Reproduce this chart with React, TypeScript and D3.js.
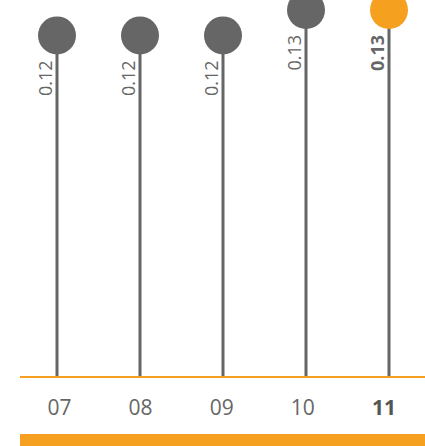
import React from "react";
import * as d3 from "d3";

const categories = ["07", "08", "09", "10", "11"];
const values = [0.121, 0.121, 0.121, 0.13, 0.13];
const highlight = [false, false, false, false, true];

const W = 425;
const H = 446;

export default function App() {
  const x = d3.scalePoint<string>().domain(categories).range([57, 389]);
  const xLabel = d3.scalePoint<string>().domain(categories).range([59.5, 384]);
  const y = d3.scaleLinear().domain([0, 0.13]).range([377, 10]);
  const r = 19;
  const gray = "#666666";
  const orange = "#F5A01F";
  const font = "'Open Sans', sans-serif";
  return (
    <svg
      width={W}
      height={H}
      style={{ position: "absolute", left: 0, top: 0, display: "block" }}
    >
      {categories.map((c, i) => {
        const cx = x(c)!;
        const cy = y(values[i]);
        return (
          <g key={c}>
            <line x1={cx} x2={cx} y1={cy} y2={y(0)} stroke={gray} strokeWidth={3} />
            <circle cx={cx} cy={cy} r={r} fill={highlight[i] ? orange : gray} />
            <text
              transform={`translate(${cx - 5},${cy + r + 6}) rotate(-90)`}
              textAnchor="end"
              fontFamily={font}
              fontSize={18}
              fontWeight={highlight[i] ? 700 : 400}
              fill={gray}
            >
              {values[i].toFixed(2)}
            </text>
            <text
              x={xLabel(c)!}
              y={415}
              textAnchor="middle"
              fontFamily={font}
              fontSize={21}
              fontWeight={highlight[i] ? 700 : 400}
              fill={highlight[i] ? "#555555" : gray}
            >
              {c}
            </text>
          </g>
        );
      })}
      <rect x={20} y={376} width={W - 20} height={2} fill={orange} />
      <rect x={20} y={434} width={W - 20} height={12} fill={orange} />
    </svg>
  );
}
